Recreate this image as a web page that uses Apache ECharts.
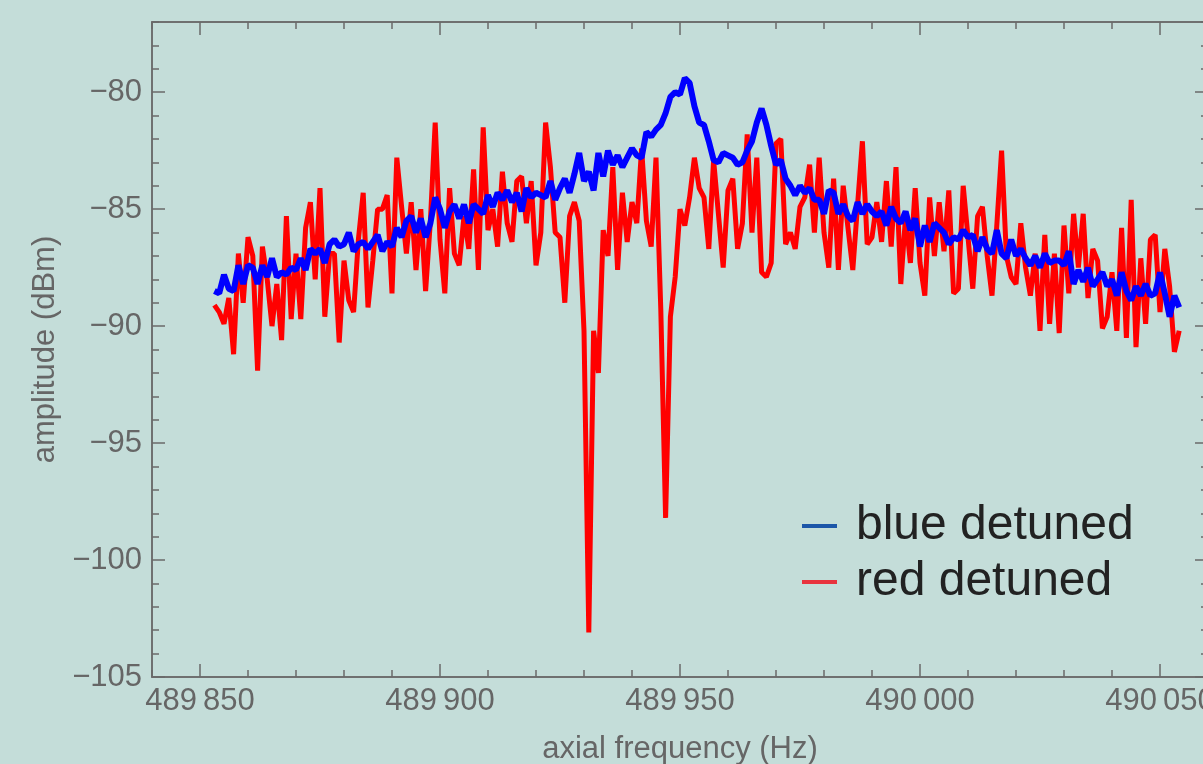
<!DOCTYPE html>
<html>
<head>
<meta charset="utf-8">
<script src="https://cdn.jsdelivr.net/npm/echarts@6/dist/echarts.min.js"></script>
<style>
  html, body { margin: 0; padding: 0; background: #c4ddd9; }
  #chart { width: 1203px; height: 764px; }
</style>
</head>
<body>
<div id="chart"></div>
<script>
// first frequency of the sweep (Hz), 1 Hz steps
var freqStart = 489853;

// blue detuned amplitude (dBm)
var blueDetuned = [
  -88.5, -88.6, -87.8, -88.4, -88.5, -87.4, -88.2, -87.4, -87.5, -88.2,
  -87.4, -87.9, -87.1, -87.9, -87.7, -87.8, -87.5, -87.6, -87.1, -87.6,
  -86.7, -86.9, -86.7, -87.3, -86.5, -86.3, -86.6, -86.5, -86.0, -86.8,
  -86.5, -86.4, -86.7, -86.4, -86.1, -86.8, -86.4, -86.6, -85.8, -86.2,
  -85.5, -85.3, -86.0, -85.4, -86.2, -85.6, -84.5, -85.0, -85.8, -85.1,
  -84.8, -85.4, -84.8, -85.6, -84.8, -85.0, -85.2, -84.4, -84.9, -84.3,
  -84.6, -84.2, -84.7, -84.3, -85.1, -84.1, -84.5, -84.3, -84.4, -84.5,
  -83.8, -84.6, -84.1, -83.7, -84.3, -83.5, -82.6, -83.8, -83.4, -84.2,
  -82.6, -83.6, -82.5, -83.1, -82.7, -83.2, -82.8, -82.4, -82.7, -82.8,
  -81.7, -81.9, -81.6, -81.4, -80.9, -80.2, -80.0, -80.1, -79.4, -79.6,
  -80.6, -81.3, -81.4, -82.1, -82.9, -83.0, -82.6, -82.7, -82.8, -83.1,
  -83.0, -82.5, -82.1, -81.3, -80.7, -81.4, -82.3, -83.1, -82.9, -83.7,
  -84.0, -84.4, -84.0, -84.3, -84.1, -84.6, -84.6, -85.2, -84.2, -84.3,
  -85.2, -84.8, -85.3, -85.5, -84.7, -85.2, -84.8, -85.1, -85.3, -85.1,
  -85.7, -84.9, -85.4, -85.6, -85.1, -85.9, -85.4, -86.6, -85.7, -86.4,
  -85.6, -85.8, -86.0, -86.5, -86.2, -86.3, -85.9, -86.2, -86.1, -86.8,
  -86.2, -86.7, -86.9, -85.9, -86.9, -87.1, -86.3, -87.0, -86.7, -87.1,
  -87.4, -87.0, -87.5, -86.9, -87.3, -87.2, -87.2, -87.4, -86.8, -88.2,
  -87.6, -88.1, -87.5, -88.3, -88.0, -87.7, -88.3, -88.0, -88.7, -87.7,
  -88.5, -88.9, -88.3, -88.7, -88.2, -88.7, -88.6, -87.7, -88.6, -89.6,
  -88.7, -89.2
];

// red detuned amplitude (dBm)
var redDetuned = [
  -89.1, -89.4, -89.9, -88.8, -91.2, -86.9, -89.0, -86.2, -87.0, -91.9,
  -86.6, -88.0, -90.0, -88.2, -90.6, -85.3, -89.7, -86.9, -89.7, -85.8,
  -84.7, -88.0, -84.1, -89.6, -86.9, -86.9, -90.7, -87.2, -88.9, -89.4,
  -86.3, -84.3, -89.2, -87.2, -85.0, -85.0, -84.4, -88.6, -82.8, -84.9,
  -86.9, -84.7, -87.6, -85.0, -88.5, -85.5, -81.3, -86.3, -88.6, -84.1,
  -86.9, -87.4, -85.3, -86.7, -83.3, -87.6, -81.5, -85.9, -85.0, -86.6,
  -83.4, -85.6, -86.4, -83.8, -83.6, -85.6, -83.8, -87.4, -86.0, -81.3,
  -83.2, -86.0, -86.2, -89.0, -85.3, -84.7, -85.5, -90.2, -103.1, -90.2,
  -92.0, -85.9, -87.0, -83.2, -87.6, -84.3, -86.4, -84.7, -85.6, -82.4,
  -85.5, -86.6, -82.8, -89.3, -98.2, -89.6, -87.9, -85.0, -85.7, -84.5,
  -82.8, -84.1, -84.5, -86.7, -82.9, -85.2, -87.5, -84.2, -83.7, -86.7,
  -85.6, -81.8, -86.0, -82.8, -87.7, -87.9, -87.3, -82.2, -82.0, -86.5,
  -86.0, -86.7, -84.9, -84.5, -83.1, -86.0, -82.8, -86.0, -87.5, -83.7,
  -87.6, -84.0, -85.8, -87.6, -84.8, -82.1, -86.5, -86.2, -84.7, -86.4,
  -83.8, -86.6, -83.2, -88.2, -85.3, -87.3, -84.1, -87.3, -88.7, -84.5,
  -87.0, -84.7, -86.8, -84.2, -88.6, -88.4, -84.0, -86.2, -88.4, -85.3,
  -84.9, -87.0, -88.7, -85.7, -82.5, -87.0, -87.9, -88.2, -85.6, -87.5,
  -88.7, -86.9, -90.2, -86.1, -89.9, -86.9, -90.3, -85.7, -88.6, -85.2,
  -87.5, -85.2, -88.8, -86.7, -87.2, -90.1, -89.6, -87.7, -90.2, -85.8,
  -90.5, -84.6, -90.9, -87.1, -89.9, -86.3, -86.1, -89.4, -86.7, -88.3,
  -91.1, -90.2
];

// tick labels
var xTicks = [489850, 489900, 489950, 490000, 490050];
var yTicks = [-105, -100, -95, -90, -85, -80];

function pairs(vals) {
  var out = [];
  for (var i = 0; i < vals.length; i++) {
    out.push([freqStart + i, vals[i]]);
  }
  return out;
}

var frame = { color: '#6a6a6a', width: 1.5 };
var font = "'Liberation Sans', Arial, sans-serif";

function xAxis(pos, major, labels) {
  return {
    type: 'value', position: pos, min: 489840, max: 490060,
    interval: 10,
    axisLine: { show: true, onZero: false, lineStyle: frame },
    axisTick: major
      ? { inside: true, length: 13, customValues: xTicks, lineStyle: frame }
      : { inside: true, length: 7, lineStyle: frame },
    axisLabel: {
      show: labels, customValues: xTicks, margin: 9,
      color: '#666', fontSize: 31, fontFamily: font,
      formatter: function (v) { var s = String(v); return s.slice(0, 3) + '\u2009' + s.slice(3); }
    },
    splitLine: { show: false },
    name: labels ? 'axial frequency (Hz)' : '',
    nameLocation: 'middle', nameGap: 57,
    nameTextStyle: { color: '#666', fontSize: 31, fontFamily: font }
  };
}

function yAxis(pos, major, labels) {
  return {
    type: 'value', position: pos, min: -105, max: -77,
    interval: 1,
    axisLine: { show: true, onZero: false, lineStyle: frame },
    axisTick: major
      ? { inside: true, length: 13, customValues: yTicks, lineStyle: frame }
      : { inside: true, length: 7, lineStyle: frame },
    axisLabel: {
      show: labels, customValues: yTicks, margin: 10,
      color: '#666', fontSize: 31, fontFamily: font,
      formatter: function (v) { return String(v).replace('-', '\u2212'); }
    },
    splitLine: { show: false },
    name: labels ? 'amplitude (dBm)' : '',
    nameLocation: 'middle', nameGap: 78,
    nameTextStyle: { color: '#666', fontSize: 31, fontFamily: font }
  };
}

var chart = echarts.init(document.getElementById('chart'));
chart.setOption({
  backgroundColor: '#c4ddd9',
  animation: false,
  grid: { left: 152, top: 22, right: -5, bottom: 87, containLabel: false, outerBoundsMode: 'none' },
  xAxis: [xAxis('bottom', false, false), xAxis('bottom', true, true), xAxis('top', false, false), xAxis('top', true, false)],
  yAxis: [yAxis('left', false, false), yAxis('left', true, true), yAxis('right', false, false), yAxis('right', true, false)],
  legend: {
    orient: 'vertical', left: 797, top: 497,
    icon: 'rect', itemWidth: 35, itemHeight: 4, itemGap: 8,
    textStyle: { fontSize: 48, color: '#222', fontFamily: font, padding: [0, 0, 0, 14] },
    data: [
      { name: 'blue detuned', itemStyle: { color: '#1c56a8' } },
      { name: 'red detuned', itemStyle: { color: '#e8333e' } }
    ]
  },
  series: [
    {
      name: 'red detuned', type: 'line', showSymbol: false,
      data: pairs(redDetuned),
      lineStyle: { color: '#ff0000', width: 5 }, itemStyle: { color: '#ff0000' }
    },
    {
      name: 'blue detuned', type: 'line', showSymbol: false,
      data: pairs(blueDetuned),
      lineStyle: { color: '#0000ff', width: 6 }, itemStyle: { color: '#0000ff' }
    }
  ]
});
</script>
</body>
</html>
